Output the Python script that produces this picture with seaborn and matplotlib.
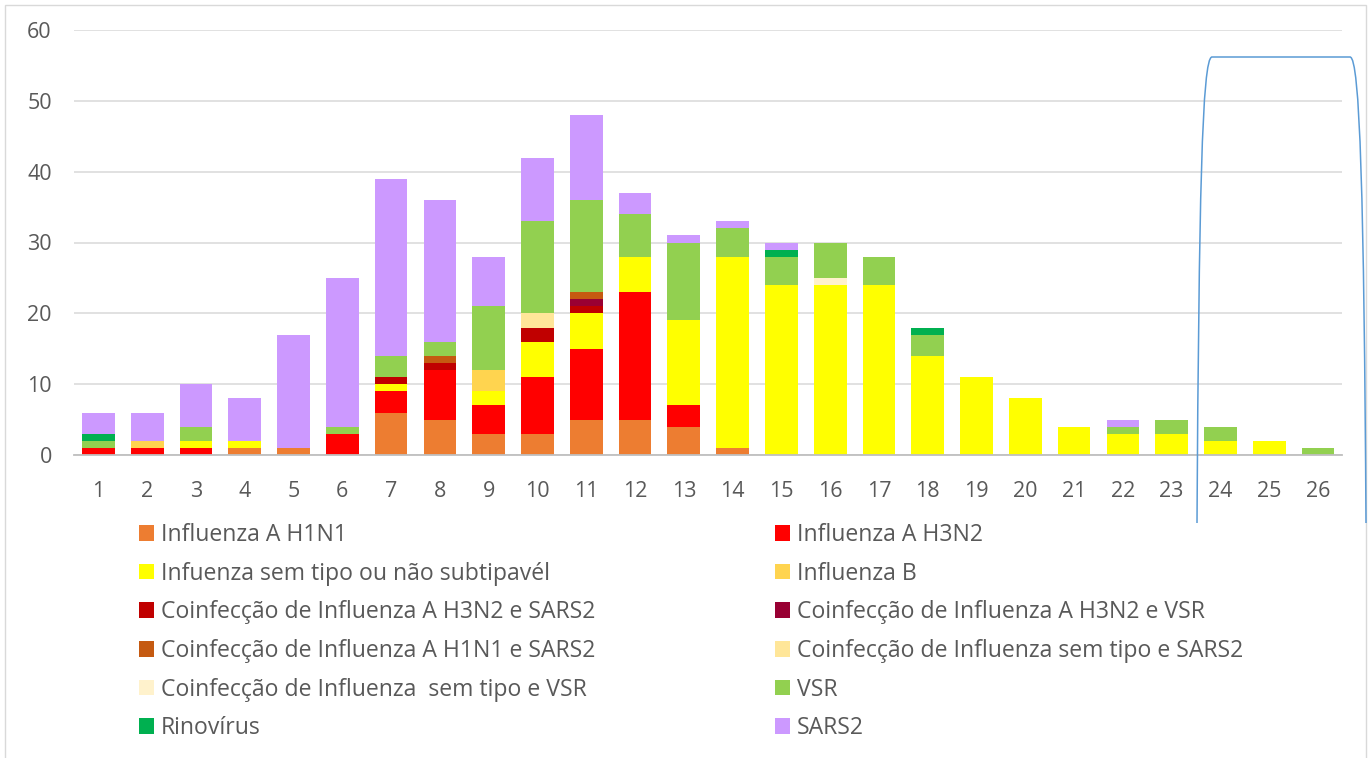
import numpy as np
import pandas as pd
import matplotlib
matplotlib.use("Agg")
import matplotlib.pyplot as plt
import seaborn as sns
from matplotlib.patches import Patch, Rectangle, PathPatch
from matplotlib.path import Path

# ---------------- data ----------------
weeks = [str(i) for i in range(1, 27)]

series_names = [
    "Influenza A H1N1",
    "Influenza A H3N2",
    "Infuenza sem tipo ou não subtipavél",
    "Influenza B",
    "Coinfecção de Influenza A H3N2 e SARS2",
    "Coinfecção de Influenza A H3N2 e VSR",
    "Coinfecção de Influenza A H1N1 e SARS2",
    "Coinfecção de Influenza sem tipo e SARS2",
    "Coinfecção de Influenza  sem tipo e VSR",
    "VSR",
    "Rinovírus",
    "SARS2",
]

h1n1 = [0, 0, 0, 1, 1, 0, 6, 5, 3, 3, 5, 5, 4, 1, 0, 0, 0, 0, 0, 0, 0, 0, 0, 0, 0, 0]
h3n2 = [1, 1, 1, 0, 0, 3, 3, 7, 4, 8, 10, 18, 3, 0, 0, 0, 0, 0, 0, 0, 0, 0, 0, 0, 0, 0]
sem_tipo = [0, 0, 1, 1, 0, 0, 1, 0, 2, 5, 5, 5, 12, 27, 24, 24, 24, 14, 11, 8, 4, 3, 3, 2, 2, 0]
flu_b = [0, 1, 0, 0, 0, 0, 0, 0, 3, 0, 0, 0, 0, 0, 0, 0, 0, 0, 0, 0, 0, 0, 0, 0, 0, 0]
co_h3n2_sars2 = [0, 0, 0, 0, 0, 0, 1, 1, 0, 2, 1, 0, 0, 0, 0, 0, 0, 0, 0, 0, 0, 0, 0, 0, 0, 0]
co_h3n2_vsr = [0, 0, 0, 0, 0, 0, 0, 0, 0, 0, 1, 0, 0, 0, 0, 0, 0, 0, 0, 0, 0, 0, 0, 0, 0, 0]
co_h1n1_sars2 = [0, 0, 0, 0, 0, 0, 0, 1, 0, 0, 1, 0, 0, 0, 0, 0, 0, 0, 0, 0, 0, 0, 0, 0, 0, 0]
co_semtipo_sars2 = [0, 0, 0, 0, 0, 0, 0, 0, 0, 2, 0, 0, 0, 0, 0, 0, 0, 0, 0, 0, 0, 0, 0, 0, 0, 0]
co_semtipo_vsr = [0, 0, 0, 0, 0, 0, 0, 0, 0, 0, 0, 0, 0, 0, 0, 1, 0, 0, 0, 0, 0, 0, 0, 0, 0, 0]
vsr = [1, 0, 2, 0, 0, 1, 3, 2, 9, 13, 13, 6, 11, 4, 4, 5, 4, 3, 0, 0, 0, 1, 2, 2, 0, 1]
rino = [1, 0, 0, 0, 0, 0, 0, 0, 0, 0, 0, 0, 0, 0, 1, 0, 0, 1, 0, 0, 0, 0, 0, 0, 0, 0]
sars2 = [3, 4, 6, 6, 16, 21, 25, 20, 7, 9, 12, 3, 1, 1, 1, 0, 0, 0, 0, 0, 0, 1, 0, 0, 0, 0]

series_values = [h1n1, h3n2, sem_tipo, flu_b, co_h3n2_sars2, co_h3n2_vsr,
                 co_h1n1_sars2, co_semtipo_sars2, co_semtipo_vsr, vsr, rino, sars2]

colors = ["#ED7D31", "#FF0000", "#FFFF00", "#FFD44F", "#C00000", "#990033",
          "#C55A11", "#FFE699", "#FFF2CC", "#92D050", "#00B050", "#CC99FF"]

y_ticks = [0, 10, 20, 30, 40, 50, 60]

# ---------------- style ----------------
sns.set_theme(style="white")
plt.rcParams["font.family"] = ["Open Sans", "DejaVu Sans"]
TXT = "#595959"
FS_TICK = 15.5
FS_LEG = 16.6

W, H = 1372, 758
fig = plt.figure(figsize=(W / 100, H / 100), dpi=100)
fig.patch.set_facecolor("white")
ax = fig.add_axes([74 / W, 1 - 455 / H, (1342.4 - 74) / W, (455 - 30) / H])

df = pd.DataFrame(dict(zip(series_names, series_values)), index=weeks)
cum = df.cumsum(axis=1)

# stacked bars: draw cumulative totals from the top series downwards
for name, color in reversed(list(zip(series_names, colors))):
    sns.barplot(x=weeks, y=cum[name].values, order=weeks, color=color,
                saturation=1, width=0.67, errorbar=None, linewidth=0, ax=ax)

ax.set_xlim(-0.5, len(weeks) - 0.5)
ax.set_ylim(0, 60)
ax.set_yticks(y_ticks)
ax.set_xlabel("")
ax.set_ylabel("")
ax.yaxis.grid(True, color="#D9D9D9", linewidth=1.1)
ax.xaxis.grid(False)
ax.set_axisbelow(True)
for s in ["top", "right", "left"]:
    ax.spines[s].set_visible(False)
ax.spines["bottom"].set_color("#BFBFBF")
ax.spines["bottom"].set_linewidth(1.3)
ax.spines["bottom"].set_zorder(5)
ax.tick_params(axis="both", length=0, labelsize=FS_TICK, labelcolor=TXT)
ax.tick_params(axis="y", pad=16)
ax.tick_params(axis="x", pad=18.5)

# ---------------- legend (two columns, row-major) ----------------
handles = [Patch(facecolor=c, edgecolor="none") for c in colors]
left_idx = list(range(0, 12, 2))
right_idx = list(range(1, 12, 2))
leg_kw = dict(loc="upper left", frameon=False, fontsize=FS_LEG, labelcolor=TXT,
              handlelength=0.66, handleheight=0.66, handletextpad=0.28,
              labelspacing=0.635, borderpad=0, borderaxespad=0)
leg1 = fig.legend([handles[i] for i in left_idx], [series_names[i] for i in left_idx],
                  bbox_to_anchor=(139 / W, 1 - 523 / H), **leg_kw)
leg2 = fig.legend([handles[i] for i in right_idx], [series_names[i] for i in right_idx],
                  bbox_to_anchor=(775 / W, 1 - 523 / H), **leg_kw)

# ---------------- chart border ----------------
fig.add_artist(Rectangle((5 / W, -0.02), (1366 - 5) / W, 1 - 5 / H + 0.02,
                         transform=fig.transFigure, fill=False,
                         edgecolor="#D9D9D9", linewidth=1))

# ---------------- blue freehand bracket ----------------
def fp(x, y):
    return (x / W, 1 - y / H)

verts = [fp(1197, 523), fp(1199, 200), fp(1202, 57), fp(1212, 57),
         fp(1350, 57),
         fp(1360, 57), fp(1364, 200), fp(1366, 523)]
codes = [Path.MOVETO, Path.CURVE4, Path.CURVE4, Path.CURVE4,
         Path.LINETO,
         Path.CURVE4, Path.CURVE4, Path.CURVE4]
fig.add_artist(PathPatch(Path(verts, codes), transform=fig.transFigure,
                         fill=False, edgecolor="#5B9BD5", linewidth=1.1))

fig.savefig("out.png", dpi=100)
